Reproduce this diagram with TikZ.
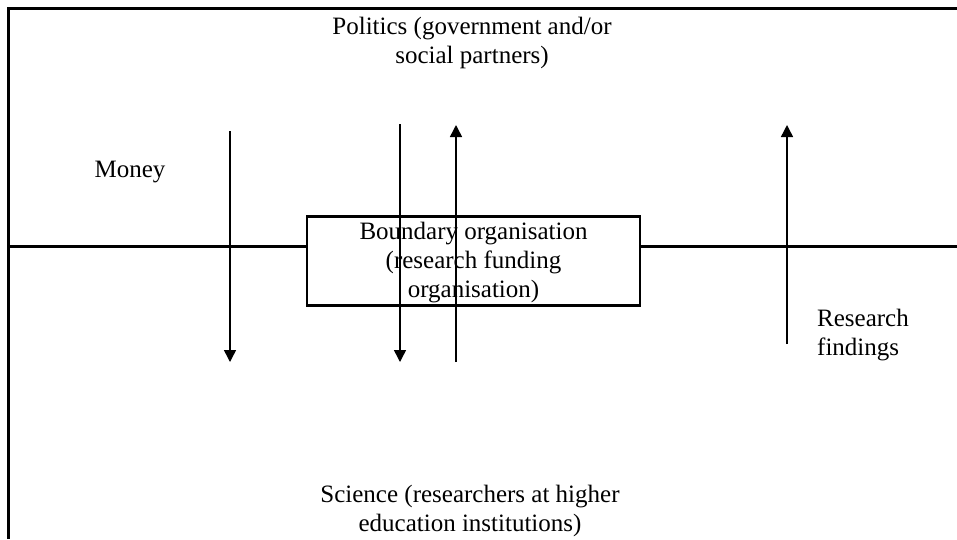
\documentclass[tikz,border=0pt]{standalone}
\usepackage{fontspec}
\setmainfont{Liberation Serif}
\usetikzlibrary{arrows.meta, positioning}
\tikzstyle{frame} = [line width=2.2pt]
\tikzstyle{textlabel} = [font=\fontsize{25}{29}\selectfont, align=center, inner sep=0pt]
\tikzstyle{boundary} = [rectangle, draw=black, line width=2.2pt, minimum width=333pt, minimum height=89pt, inner sep=0pt]
\tikzstyle{arrow} = [line width=1.5pt, -{Triangle[width=12pt,length=12pt]}]

\begin{document}
\begin{tikzpicture}[x=1pt, y=-1pt]
    \useasboundingbox (0,0) rectangle (957,539);
    % frame and dividing line
    \coordinate (tl) at (8.5,8.5);
    \coordinate (tr) at (957,8.5);
    \coordinate (bl) at (8.5,539);
    \coordinate (ml) at (8.5,246.5);
    \coordinate (mr) at (957,246.5);
    \draw [frame] (tr) -- (tl) -- (bl);

    % nodes
    \node (box) [boundary] at (473.5,261) {};
    \node (boxtext) [textlabel] at (473.5,263) {Boundary organisation\\(research funding\\organisation)};
    \node (politics) [textlabel] at (472,43) {Politics (government and/or\\social partners)};
    \node (money) [textlabel] at (130,172) {Money};
    \node (findings) [textlabel, align=left, anchor=west] at (817,335.5) {Research\\findings};
    \node (science) [textlabel] at (470,511) {Science (researchers at higher\\education institutions)};

    \draw [frame] (ml) -- (ml -| box.west);
    \draw [frame] (mr -| box.east) -- (mr);

    % arrow ends
    \coordinate (m1top) at (230,131);
    \coordinate (m1bot) at (230,362);
    \coordinate (m2top) at (400,124);
    \coordinate (m2bot) at (400,362);
    \coordinate (f1bot) at (456,362);
    \coordinate (f1top) at (456,125);
    \coordinate (f2bot) at (787,344);
    \coordinate (f2top) at (787,125);

    % connectors
    \draw [arrow] (m1top) -- (m1bot);
    \draw [arrow] (m2top) -- (m2bot);
    \draw [arrow] (f1bot) -- (f1top);
    \draw [arrow] (f2bot) -- (f2top);
\end{tikzpicture}
\end{document}
